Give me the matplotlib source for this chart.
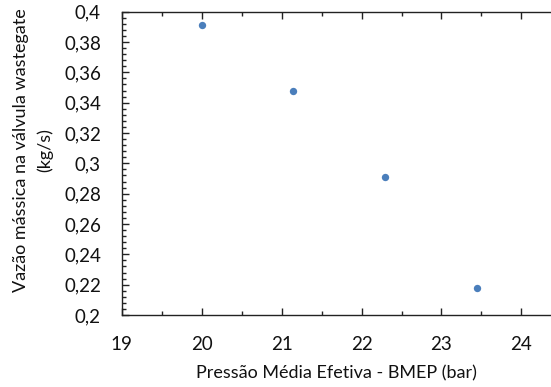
import matplotlib.pyplot as plt
from matplotlib.ticker import MultipleLocator, FuncFormatter

# BMEP (bar) vs wastegate mass flow (kg/s)
bmep = [20.0, 21.14, 22.29, 23.44]
vazao = [0.391, 0.348, 0.291, 0.218]

plt.rcParams['font.family'] = ['Lato', 'DejaVu Sans']

fig = plt.figure(figsize=(5.51, 3.87), dpi=100)
ax = fig.add_axes([0.2209, 0.186, 1 - 0.2209, 0.9698 - 0.186])
ax.scatter(bmep, vazao, s=28, color='#4a7ebb', zorder=3, linewidths=0)

ax.set_xlim(19, 24.37)
ax.set_ylim(0.2, 0.4)
ax.xaxis.set_major_locator(MultipleLocator(1))
ax.xaxis.set_minor_locator(MultipleLocator(0.5))
ax.yaxis.set_major_locator(MultipleLocator(0.02))
ax.yaxis.set_minor_locator(MultipleLocator(0.004))

comma = FuncFormatter(lambda v, p: ('%g' % round(v, 4)).replace('.', ','))
ax.yaxis.set_major_formatter(comma)
ax.xaxis.set_major_formatter(FuncFormatter(lambda v, p: '%d' % v))

ax.spines['right'].set_visible(False)
for s in ['left', 'bottom', 'top']:
    ax.spines[s].set_color('#222222')
    ax.spines[s].set_linewidth(1.0)

ax.tick_params(which='both', direction='in', top=True, right=False,
               color='#222222', width=1.0)
ax.tick_params(which='major', length=5, labelsize=13.5, labelcolor='#111111')
ax.tick_params(which='minor', length=3)
ax.tick_params(axis='x', which='major', pad=15)
ax.tick_params(axis='y', which='major', pad=15)

ax.set_xlabel('Pressão Média Efetiva - BMEP (bar)', fontsize=13, color='#111111')
ax.set_ylabel('Vazão mássica na válvula wastegate\n(kg/s)', fontsize=13,
              color='#111111', linespacing=1.55)
ax.xaxis.set_label_coords(0.5, -0.165)
ax.yaxis.set_label_coords(-0.16, 0.545)

fig.savefig('out.png', dpi=100)
